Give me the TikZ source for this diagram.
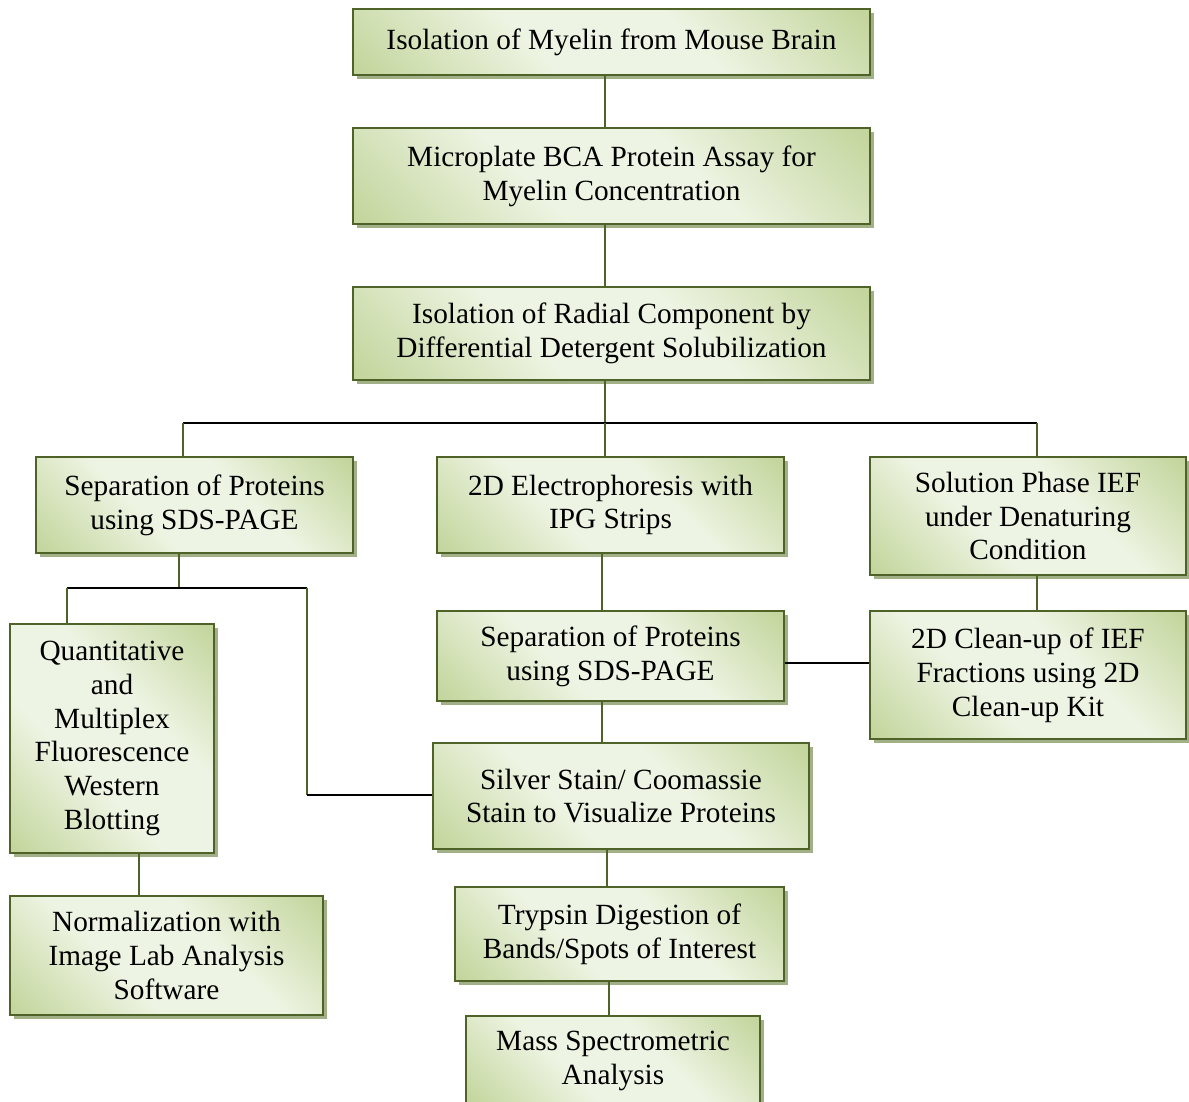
\documentclass[tikz,border=0pt]{standalone}
\usepackage{fontspec}
\setmainfont{Liberation Serif}
\usetikzlibrary{shadows,calc}
\definecolor{gdark}{HTML}{C4D69E}
\definecolor{glight}{HTML}{EEF4E3}
\definecolor{gborder}{HTML}{4F6228}
\definecolor{gshadow}{HTML}{A2B088}
\pgfdeclarehorizontalshading{boxsh}{100bp}{color(0bp)=(gdark); color(16bp)=(gdark); color(40bp)=(glight); color(60bp)=(glight); color(84bp)=(gdark); color(100bp)=(gdark)}
\tikzset{
  box/.style={draw=gborder, line width=2.8pt, shading=boxsh, shading angle=45,
    drop shadow={shadow xshift=3.5pt, shadow yshift=-3.5pt, fill=gshadow, opacity=1},
    align=center, inner sep=0pt, font=\fontsize{29.3}{33.8}\selectfont},
  vline/.style={draw=gborder, line width=2pt},
  hline/.style={draw=black, line width=1.6pt},
}
\begin{document}
\begin{tikzpicture}[x=1pt,y=-1pt]
\useasboundingbox (0,0) rectangle (1189,1101);
\clip (0,0) rectangle (1189,1101);
\node[box, minimum width=517pt, minimum height=66pt] (n1) at (611.5,42) {Isolation of Myelin from Mouse Brain};
\node[box, minimum width=517pt, minimum height=96pt] (n2) at (611.5,176) {Microplate BCA Protein Assay for\\Myelin Concentration};
\node[box, minimum width=517pt, minimum height=93pt] (n3) at (611.5,333.5) {Isolation of Radial Component by\\Differential Detergent Solubilization};
\node[box, minimum width=317pt, minimum height=96pt] (n4) at (194.5,505) {Separation of Proteins\\using SDS-PAGE};
\node[box, minimum width=347pt, minimum height=96pt] (n5) at (610.5,505) {2D Electrophoresis with\\IPG Strips};
\node[box, minimum width=316pt, minimum height=118pt] (n6) at (1028,516) {Solution Phase IEF\\under Denaturing\\Condition};
\node[box, minimum width=347pt, minimum height=90pt] (n7) at (610.5,656) {Separation of Proteins\\using SDS-PAGE};
\node[box, minimum width=316pt, minimum height=128pt] (n8) at (1028,675) {2D Clean-up of IEF\\Fractions using 2D\\Clean-up Kit};
\node[box, minimum width=204pt, minimum height=229pt] (n9) at (112,738.5) {Quantitative\\and\\Multiplex\\Fluorescence\\Western\\Blotting};
\node[box, minimum width=376pt, minimum height=106pt] (n10) at (621,796) {Silver Stain/ Coomassie\\Stain to Visualize Proteins};
\node[box, minimum width=313pt, minimum height=119pt] (n11) at (166.5,955.5) {Normalization with\\Image Lab Analysis\\Software};
\node[box, minimum width=329pt, minimum height=94pt] (n12) at (619.5,934) {Trypsin Digestion of\\Bands/Spots of Interest};
\node[box, minimum width=294pt, minimum height=90pt] (n13) at (613,1061) {Mass Spectrometric\\Analysis};

\coordinate (xa) at (605,0);
\coordinate (jm) at (605,423);
\coordinate (jl) at (183,423);
\coordinate (jr) at (1037,423);
\coordinate (xb) at (179,0);
\coordinate (kl) at (67,588);
\coordinate (kr) at (307,588);
\coordinate (kd) at (307,795);
\coordinate (xc) at (602,0);
\coordinate (xd) at (139,0);
\coordinate (xe) at (607,0);
\coordinate (xf) at (609,0);

\draw[vline] (n1.south -| xa) -- (n2.north -| xa);
\draw[vline] (n2.south -| xa) -- (n3.north -| xa);
\draw[vline] (n3.south -| xa) -- (jm);
\draw[hline] (jl) -- (jr);
\draw[vline] (jl) -- (n4.north -| jl);
\draw[vline] (jm) -- (n5.north -| jm);
\draw[vline] (jr) -- (n6.north -| jr);
\draw[vline] (n6.south -| jr) -- (n8.north -| jr);
\draw[vline] (n4.south -| xb) -- (kl -| xb);
\draw[hline] (kl) -- (kr);
\draw[vline] (kl) -- (n9.north -| kl);
\draw[vline] (kr) -- (kd);
\draw[hline] (kd) -- (n10.west |- kd);
\draw[vline] (n5.south -| xc) -- (n7.north -| xc);
\draw[vline] (n7.south -| xc) -- (n10.north -| xc);
\draw[hline] (n7.east |- 0,663) -- (n8.west |- 0,663);
\draw[vline] (n9.south -| xd) -- (n11.north -| xd);
\draw[vline] (n10.south -| xe) -- (n12.north -| xe);
\draw[vline] (n12.south -| xf) -- (n13.north -| xf);
\end{tikzpicture}
\end{document}
